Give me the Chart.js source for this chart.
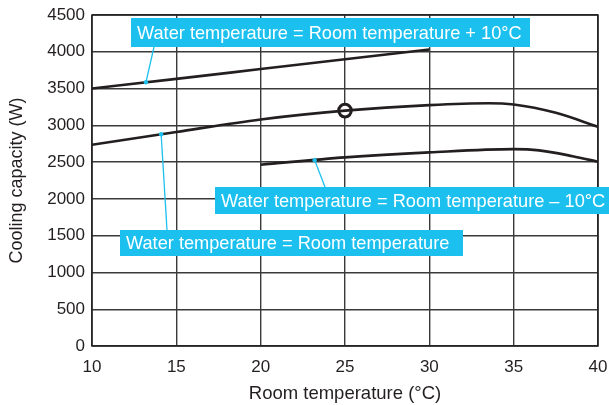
<!DOCTYPE html>
<html>
<head>
<meta charset="utf-8">
<script src="https://cdn.jsdelivr.net/npm/chart.js@4"></script>
<style>
html,body{margin:0;padding:0;background:#fff;}
#wrap{width:609px;height:405px;position:relative;}
</style>
</head>
<body>
<div id="wrap"><canvas id="c" width="609" height="405"></canvas></div>
<script>
// ---- data ----
const upperX = [10, 15, 20, 25, 30];
const upperY = [3500, 3632, 3765, 3898, 4030];
const middleX = [10, 15, 20, 25, 30, 33.5, 35, 37.5, 40];
const middleY = [2735, 2910, 3080, 3200, 3275, 3300, 3283, 3170, 2980];
const lowerX = [20, 25, 30, 35, 36.5, 38.5, 40];
const lowerY = [2465, 2565, 2632, 2676, 2660, 2580, 2505];
const ratedX = [25];
const ratedY = [3200];
const labelUpper = 'Water temperature = Room temperature + 10°C';
const labelMiddle = 'Water temperature = Room temperature';
const labelLower = 'Water temperature = Room temperature \u2013 10°C';
const xTitle = 'Room temperature (°C)';
const yTitle = 'Cooling capacity (W)';
// leader dots on the curves (data coords)
const dotUpper = [13.2, 3586];
const dotMiddle = [14.1, 2878];
const dotLower = [23.2, 2527];

const pts = (xs, ys) => xs.map((x, i) => ({x, y: ys[i]}));
const INK = '#231f20';
const CYAN = '#1bc0ef';
const FONT = '"Liberation Sans", Arial, Helvetica, sans-serif';

const callouts = [
  {text: labelUpper, box: [131, 18, 530, 47], from: [154, 47], dot: dotUpper},
  {text: labelLower, box: [215, 187, 609, 214], from: [325, 187], dot: dotLower},
  {text: labelMiddle, box: [120, 230, 463, 256], from: [167, 230], dot: dotMiddle},
];

const overlayPlugin = {
  id: 'overlay',
  afterDatasetsDraw(chart) {
    const ctx = chart.ctx, xs = chart.scales.x, ys = chart.scales.y;
    const {left, right, top, bottom} = chart.chartArea;
    ctx.save();
    // plot frame
    ctx.strokeStyle = INK; ctx.lineWidth = 1.5;
    ctx.strokeRect(left, top, right - left, bottom - top);
    // callouts
    callouts.forEach(c => {
      const dx = xs.getPixelForValue(c.dot[0]), dy = ys.getPixelForValue(c.dot[1]);
      ctx.strokeStyle = CYAN; ctx.lineWidth = 1.3;
      ctx.beginPath(); ctx.moveTo(c.from[0], c.from[1]); ctx.lineTo(dx, dy); ctx.stroke();
      ctx.fillStyle = CYAN;
      ctx.beginPath(); ctx.arc(dx, dy, 2.2, 0, Math.PI * 2); ctx.fill();
      const [x1, y1, x2, y2] = c.box;
      ctx.fillRect(x1, y1, x2 - x1, y2 - y1);
      ctx.fillStyle = '#ffffff';
      ctx.font = '18.2px ' + FONT;
      ctx.textBaseline = 'middle'; ctx.textAlign = 'left';
      ctx.fillText(c.text, x1 + 6, (y1 + y2) / 2 + 1);
    });
    ctx.restore();
  }
};

const lineDs = (data) => ({
  data, borderColor: INK, borderWidth: 2.6, pointRadius: 0, fill: false,
  cubicInterpolationMode: 'monotone', showLine: true
});

new Chart(document.getElementById('c'), {
  type: 'scatter',
  data: {
    datasets: [
      lineDs(pts(upperX, upperY)),
      lineDs(pts(middleX, middleY)),
      lineDs(pts(lowerX, lowerY)),
      {data: pts(ratedX, ratedY), showLine: false, pointRadius: 6.3, pointBorderWidth: 3,
       pointBackgroundColor: '#ffffff', pointBorderColor: INK}
    ]
  },
  options: {
    responsive: false, animation: false, devicePixelRatio: 1,
    layout: {padding: {left: 0, right: 11, top: 15, bottom: 0}},
    plugins: {legend: {display: false}, tooltip: {enabled: false}},
    scales: {
      x: {
        type: 'linear', min: 10, max: 40,
        ticks: {stepSize: 5, color: INK, font: {family: FONT, size: 17}, padding: 11, maxRotation: 0,
                callback: v => String(v)},
        grid: {color: '#3a3a3a', lineWidth: 1.4, drawTicks: false},
        border: {display: false},
        title: {display: true, text: xTitle, color: INK, font: {family: FONT, size: 18.5}, padding: {top: 4, bottom: 0}},
        afterFit(s) { s.height = 59; s.paddingLeft = 0; s.paddingRight = 0; }
      },
      y: {
        min: 0, max: 4500,
        ticks: {stepSize: 500, color: INK, font: {family: FONT, size: 17}, padding: 7,
                callback: v => String(v)},
        grid: {color: '#3a3a3a', lineWidth: 1.4, drawTicks: false},
        border: {display: false},
        title: {display: true, text: yTitle, color: INK, font: {family: FONT, size: 18}, padding: 6},
        afterFit(s) { s.width = 92; s.paddingTop = 0; s.paddingBottom = 0; }
      }
    }
  },
  plugins: [overlayPlugin]
});
</script>
</body>
</html>
